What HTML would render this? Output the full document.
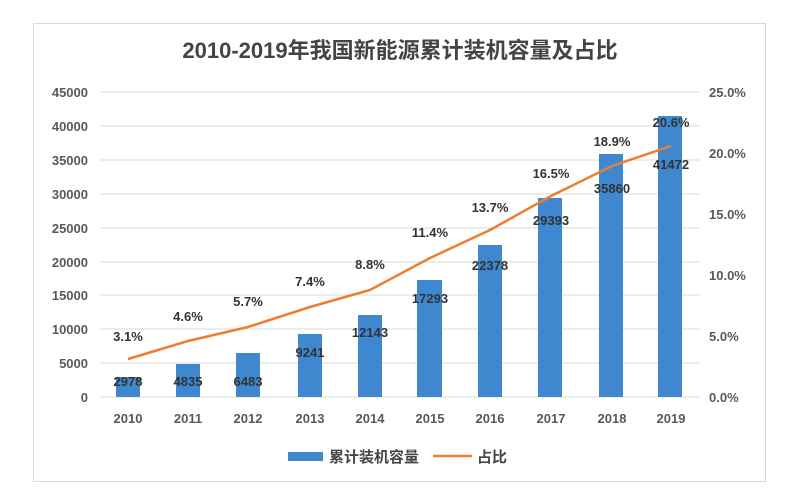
<!DOCTYPE html><html><head><meta charset="utf-8"><style>body{margin:0;background:#fff}</style></head><body>
<svg width="800" height="498" xmlns="http://www.w3.org/2000/svg" font-family="Liberation Sans, Noto Sans CJK SC, sans-serif">
<rect x="0" y="0" width="800" height="498" fill="#fff"/>
<rect x="33.5" y="23.5" width="732" height="458" fill="#fff" stroke="#d9d9d9"/>
<text x="400" y="58" text-anchor="middle" font-size="22" font-weight="bold" fill="#444">2010-2019年我国新能源累计装机容量及占比</text>
<g stroke="#d9d9d9" stroke-width="1">
<line x1="100" x2="700" y1="92" y2="92"/><line x1="100" x2="700" y1="126" y2="126"/><line x1="100" x2="700" y1="160" y2="160"/><line x1="100" x2="700" y1="194" y2="194"/><line x1="100" x2="700" y1="228" y2="228"/><line x1="100" x2="700" y1="262" y2="262"/><line x1="100" x2="700" y1="295" y2="295"/><line x1="100" x2="700" y1="329" y2="329"/><line x1="100" x2="700" y1="363" y2="363"/><line x1="100" x2="700" y1="397" y2="397"/></g>
<g font-size="13" font-weight="bold" fill="#595959" text-anchor="end">
<text x="88" y="97">45000</text><text x="88" y="131">40000</text><text x="88" y="165">35000</text><text x="88" y="199">30000</text><text x="88" y="233">25000</text><text x="88" y="267">20000</text><text x="88" y="300">15000</text><text x="88" y="334">10000</text><text x="88" y="368">5000</text><text x="88" y="402">0</text></g>
<g font-size="13" font-weight="bold" fill="#595959">
<text x="709" y="97">25.0%</text><text x="709" y="158">20.0%</text><text x="709" y="219">15.0%</text><text x="709" y="280">10.0%</text><text x="709" y="341">5.0%</text><text x="709" y="402">0.0%</text></g>
<g fill="#3f87cf">
<rect x="116" y="377" width="24" height="20"/><rect x="176" y="364" width="24" height="33"/><rect x="236" y="353" width="24" height="44"/><rect x="298" y="334" width="24" height="63"/><rect x="358" y="315" width="24" height="82"/><rect x="417" y="280" width="25" height="117"/><rect x="478" y="245" width="24" height="152"/><rect x="538" y="198" width="24" height="199"/><rect x="599" y="154" width="24" height="243"/><rect x="658" y="116" width="24" height="281"/></g>
<polyline fill="none" stroke="#ed7d31" stroke-width="2.5" points="128,359 188,341 248,327 310,307 370,290 430,258 490,230 551,196 612,166 671,146"/>
<g font-size="13" font-weight="bold" fill="#333" text-anchor="middle">
<text x="128" y="386">2978</text><text x="188" y="386">4835</text><text x="248" y="386">6483</text><text x="310" y="357">9241</text><text x="370" y="337">12143</text><text x="430" y="303">17293</text><text x="490" y="270">22378</text><text x="551" y="225">29393</text><text x="612" y="193">35860</text><text x="671" y="169">41472</text>
<text x="128" y="341">3.1%</text><text x="188" y="321">4.6%</text><text x="248" y="306">5.7%</text><text x="310" y="286">7.4%</text><text x="370" y="269">8.8%</text><text x="430" y="237">11.4%</text><text x="490" y="212">13.7%</text><text x="551" y="178">16.5%</text><text x="612" y="146">18.9%</text><text x="671" y="127">20.6%</text></g>
<g font-size="13" font-weight="bold" fill="#595959" text-anchor="middle">
<text x="128" y="423">2010</text><text x="188" y="423">2011</text><text x="248" y="423">2012</text><text x="310" y="423">2013</text><text x="370" y="423">2014</text><text x="430" y="423">2015</text><text x="490" y="423">2016</text><text x="551" y="423">2017</text><text x="612" y="423">2018</text><text x="671" y="423">2019</text></g>
<rect x="288" y="452" width="35" height="9" fill="#3f87cf"/>
<text x="329" y="462" font-size="15" font-weight="bold" fill="#444">累计装机容量</text>
<line x1="433" x2="472" y1="456" y2="456" stroke="#ed7d31" stroke-width="2.5"/>
<text x="477" y="462" font-size="15" font-weight="bold" fill="#444">占比</text>
</svg></body></html>
